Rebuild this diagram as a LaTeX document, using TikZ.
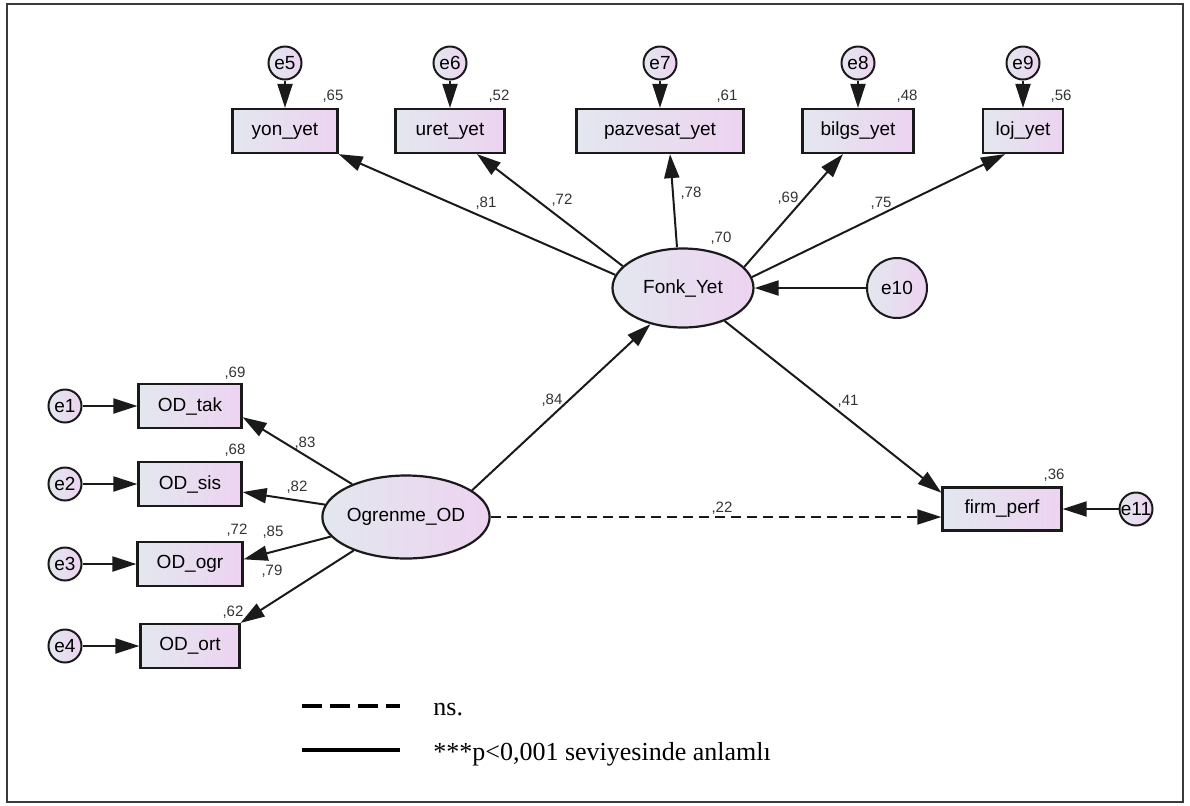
\documentclass[tikz,border=0pt]{standalone}
\usepackage{fontspec}
\setmainfont{Liberation Sans}
\newfontfamily\legfont{Liberation Serif}
\usetikzlibrary{arrows.meta,positioning,calc,shapes.geometric}
\definecolor{ShdLeft}{HTML}{E3E7EE}
\definecolor{ShdRight}{HTML}{EDD3F1}
\definecolor{Ink}{HTML}{1A1A1A}
\definecolor{CoefInk}{HTML}{333333}
\definecolor{Frame}{HTML}{3A3A3A}
\tikzset{
  every picture/.append style={font=\fontsize{9.5}{11}\selectfont},
  obs/.style={rectangle, draw=Ink, line width=1.1pt, left color=ShdLeft, right color=ShdRight,
              inner sep=0pt, minimum height=22pt},
  lat/.style={ellipse, draw=Ink, line width=1.1pt, left color=ShdLeft, right color=ShdRight,
              inner sep=0pt},
  err/.style={circle, draw=Ink, line width=1pt, left color=ShdLeft, right color=ShdRight,
              inner sep=0pt, minimum size=16.5pt},
  coef/.style={font=\fontsize{7.5}{9}\selectfont, text=CoefInk, inner sep=0pt},
  lnk/.style={-{Triangle[length=12pt,width=7.5pt]}, line width=1pt, draw=Ink},
  nsl/.style={lnk, dash pattern=on 5pt off 3pt, line width=0.8pt},
  legline/.style={line width=2pt, draw=black},
  legtxt/.style={font=\legfont\fontsize{13}{15}\selectfont, anchor=base west, inner sep=0pt},
}
\begin{document}
\begin{tikzpicture}[x=0.5pt,y=-0.5pt]
\useasboundingbox (0,0) rectangle (1190,805);
\draw[line width=1.2pt, draw=Frame] (7,4) rectangle (1183,802);

% ---------------- functional capability indicators ---------------------------
\node[obs, minimum width=52.5pt] (yon)   at (285,131)  {yon\_yet};
\node[obs, minimum width=54.5pt] (uret)  at (450,131)  {uret\_yet};
\node[obs, minimum width=83.5pt] (paz)   at (660,131)  {pazvesat\_yet};
\node[obs, minimum width=55.5pt] (bilgs) at (858,131)  {bilgs\_yet};
\node[obs, minimum width=40pt]   (loj)   at (1023,131) {loj\_yet};

\node[err] (e5) at (285,63)  {e5};
\node[err] (e6) at (450,63)  {e6};
\node[err] (e7) at (660,63)  {e7};
\node[err] (e8) at (858,63)  {e8};
\node[err] (e9) at (1023,63) {e9};
\draw[lnk] (e5) -- (yon);
\draw[lnk] (e6) -- (uret);
\draw[lnk] (e7) -- (paz);
\draw[lnk] (e8) -- (bilgs);
\draw[lnk] (e9) -- (loj);

\node[coef] (r5) at (333,96)  {,65};
\node[coef] (r6) at (499,96)  {,52};
\node[coef] (r7) at (727,96)  {,61};
\node[coef] (r8) at (907,96)  {,48};
\node[coef] (r9) at (1061,96) {,56};

% ---------------- latent variables -----------------------------------------
\node[lat, minimum width=70.5pt, minimum height=39.5pt] (fonk) at (683,288) {Fonk\_Yet};
\node[lat, minimum width=76.5pt, minimum height=41.5pt] (ogr)  at (406,517) {Ogrenme\_OD};
\node[err, minimum size=30pt] (e10) at (897,288) {e10};
\node[coef] (rf) at (721,238) {,70};
\draw[lnk] (e10) -- (fonk);

\draw[lnk] (fonk.169) -- (yon.south east);
\draw[lnk] (fonk.160) -- ($(uret.south)+(27,0)$);
\draw[lnk] ($(fonk.north)+(-6,0)$) -- ($(paz.south)+(10,0)$);
\draw[lnk] (fonk.19) -- ($(bilgs.south)+(-15,0)$);
\draw[lnk] (fonk.9) -- ($(loj.south)+(-18,0)$);
\node[coef] (l81) at (486,203) {,81};
\node[coef] (l72) at (562,200) {,72};
\node[coef] (l78) at (691,193) {,78};
\node[coef] (l69) at (788,198) {,69};
\node[coef] (l75) at (881,203) {,75};

% ---------------- organisational learning indicators ------------------------
\node[obs, minimum width=51.5pt] (tak)  at (190,406) {OD\_tak};
\node[obs, minimum width=51.5pt] (sis)  at (190,484) {OD\_sis};
\node[obs, minimum width=52.5pt] (ogrb) at (190,564) {OD\_ogr};
\node[obs, minimum width=49.5pt] (ort)  at (190,646) {OD\_ort};

\node[err] (e1) at (65,406) {e1};
\node[err] (e2) at (65,484) {e2};
\node[err] (e3) at (65,564) {e3};
\node[err] (e4) at (65,646) {e4};
\draw[lnk] (e1) -- (tak);
\draw[lnk] (e2) -- (sis);
\draw[lnk] (e3) -- (ogrb);
\draw[lnk] (e4) -- (ort);

\draw[lnk] (ogr) -- (tak.-12);
\draw[lnk] (ogr) -- (sis);
\draw[lnk] (ogr) -- (ogrb.5);
\draw[lnk] (ogr) -- (ort.north east);

\node[coef] (r1) at (235,373) {,69};
\node[coef] (r2) at (235,450) {,68};
\node[coef] (r3) at (237,530) {,72};
\node[coef] (r4) at (233,612) {,62};
\node[coef] (l83) at (305,443) {,83};
\node[coef] (l82) at (297,487) {,82};
\node[coef] (l85) at (273,532) {,85};
\node[coef] (l79) at (272,571) {,79};

% ---------------- outcome -------------------------------------------------
\node[obs, minimum width=59.5pt, minimum height=21.5pt] (firm) at (1002,509) {firm\_perf};
\node[err] (e11) at (1136,509) {e11};
\node[coef] (rp) at (1054,475) {,36};
\draw[lnk] (e11) -- (firm);

\draw[lnk] (ogr.22) -- (fonk.228);
\draw[lnk] (fonk) -- (firm.165);
\draw[nsl] (ogr.east) -- (ogr.east -| firm.west);
\node[coef] (l84) at (552,400) {,84};
\node[coef] (l41) at (848,401) {,41};
\node[coef] (l22) at (722,508) {,22};

% ---------------- legend --------------------------------------------------
\coordinate (nsA) at (302,706);
\coordinate (nsB) at (400,706);
\coordinate (sgA) at (302,750);
\coordinate (sgB) at (400,750);
\draw[legline, dash pattern=on 10pt off 4pt] (nsA) -- (nsB);
\draw[legline] (sgA) -- (sgB);
\node[legtxt] (nstxt) at (433,715) {ns.};
\node[legtxt] (sgtxt) at (433,760) {***p<0,001 seviyesinde anlamlı};

\end{tikzpicture}
\end{document}
